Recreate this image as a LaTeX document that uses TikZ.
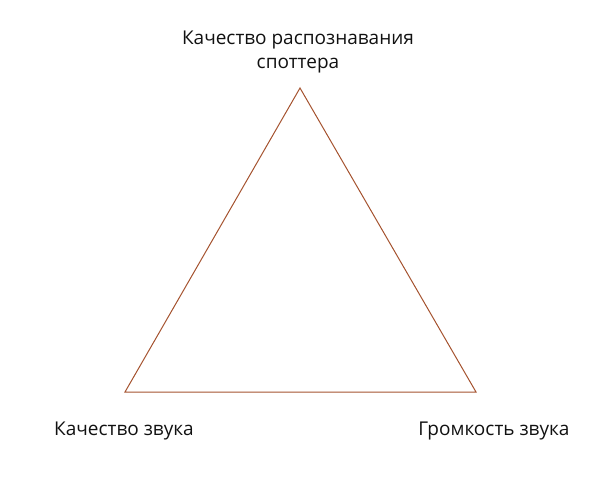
\documentclass[tikz,border=0pt]{standalone}
\usepackage{fontspec}
\setmainfont{Open Sans}
\definecolor{edgebrown}{HTML}{A5532F}
\definecolor{txt}{HTML}{111111}
\begin{document}
\begin{tikzpicture}[x=1pt,y=-1pt,
  lbl/.style={font=\fontsize{19}{23.5}\selectfont, text=txt, align=center, inner sep=0pt},
  edge/.style={draw=edgebrown, line width=1pt, line join=miter}]
\useasboundingbox (0,0) rectangle (600,481);
\coordinate (t) at (300,88);
\coordinate (l) at (125,392);
\coordinate (r) at (476,392);
\draw[edge] (t) -- (r) -- (l) -- cycle;
\node[lbl] (top) at (298,52) {Качество распознавания\\споттера};
\node[lbl] (lt) at (124,431) {Качество звука};
\node[lbl] (rt) at (494,431) {Громкость звука};
\end{tikzpicture}
\end{document}
